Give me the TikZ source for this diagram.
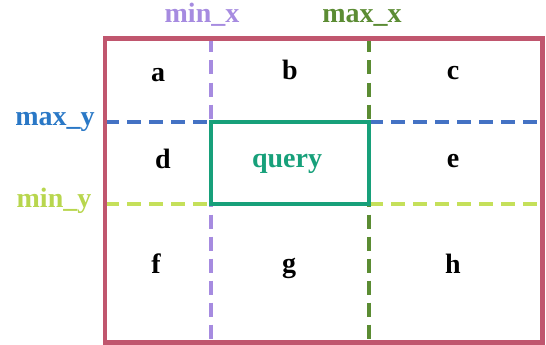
\documentclass[tikz,border=0pt]{standalone}
\usepackage{fontspec}
\setmainfont{Liberation Serif}
\definecolor{border}{HTML}{C0566E}
\definecolor{minx}{HTML}{A68BE0}
\definecolor{maxx}{HTML}{5B8C33}
\definecolor{maxy}{HTML}{4472C4}
\definecolor{maxylbl}{HTML}{2A78C6}
\definecolor{miny}{HTML}{C5E05A}
\definecolor{minylbl}{HTML}{B8D64E}
\definecolor{query}{HTML}{17A07A}
\tikzset{
  lbl/.style={font=\fontsize{28}{32}\selectfont\bfseries, inner sep=0pt, anchor=base},
  guide/.style={line width=4pt, dash pattern=on 14pt off 8pt},
}
\begin{document}
\begin{tikzpicture}[x=1pt,y=-1pt]
\useasboundingbox (0,0) rectangle (546,345);
% corners
\coordinate (tl) at (105,38.5);
\coordinate (br) at (542.5,342.5);
\coordinate (qtl) at (210.5,122);
\coordinate (qbr) at (369,203.5);
% guides
\coordinate (minxT) at (210.5,38.5);
\coordinate (minxB) at (210.5,342.5);
\coordinate (maxxT) at (369,38.5);
\coordinate (maxxB) at (369,342.5);
\coordinate (maxyL) at (105,122);
\coordinate (maxyR) at (542.5,122);
\coordinate (minyL) at (105,203.5);
\coordinate (minyR) at (542.5,203.5);
\draw[guide, minx] (minxT) -- (minxB);
\draw[guide, maxx] (maxxT) -- (maxxB);
\draw[guide, maxy] (maxyL) -- (maxyR);
\draw[guide, miny] (minyL) -- (minyR);
\draw[line width=4.5pt, border] (tl) rectangle (br);
\draw[line width=4pt, query] (qtl) rectangle (qbr);
% labels
\node[lbl, text=minx] (lminx) at (202,23) {min\_x};
\node[lbl, text=maxx] (lmaxx) at (362,23) {max\_x};
\node[lbl, text=maxylbl] (lmaxy) at (55,125) {max\_y};
\node[lbl, text=minylbl] (lminy) at (54,207) {min\_y};
\node[lbl] (a) at (158,81.5) {a};
\node[lbl] (b) at (290,80) {b};
\node[lbl] (c) at (453,80) {c};
\node[lbl] (d) at (163,168) {d};
\node[lbl, text=query] (q) at (287,167) {query};
\node[lbl] (e) at (453,167) {e};
\node[lbl] (f) at (156,273) {f};
\node[lbl] (g) at (289,272) {g};
\node[lbl] (h) at (453,273) {h};
\end{tikzpicture}
\end{document}
